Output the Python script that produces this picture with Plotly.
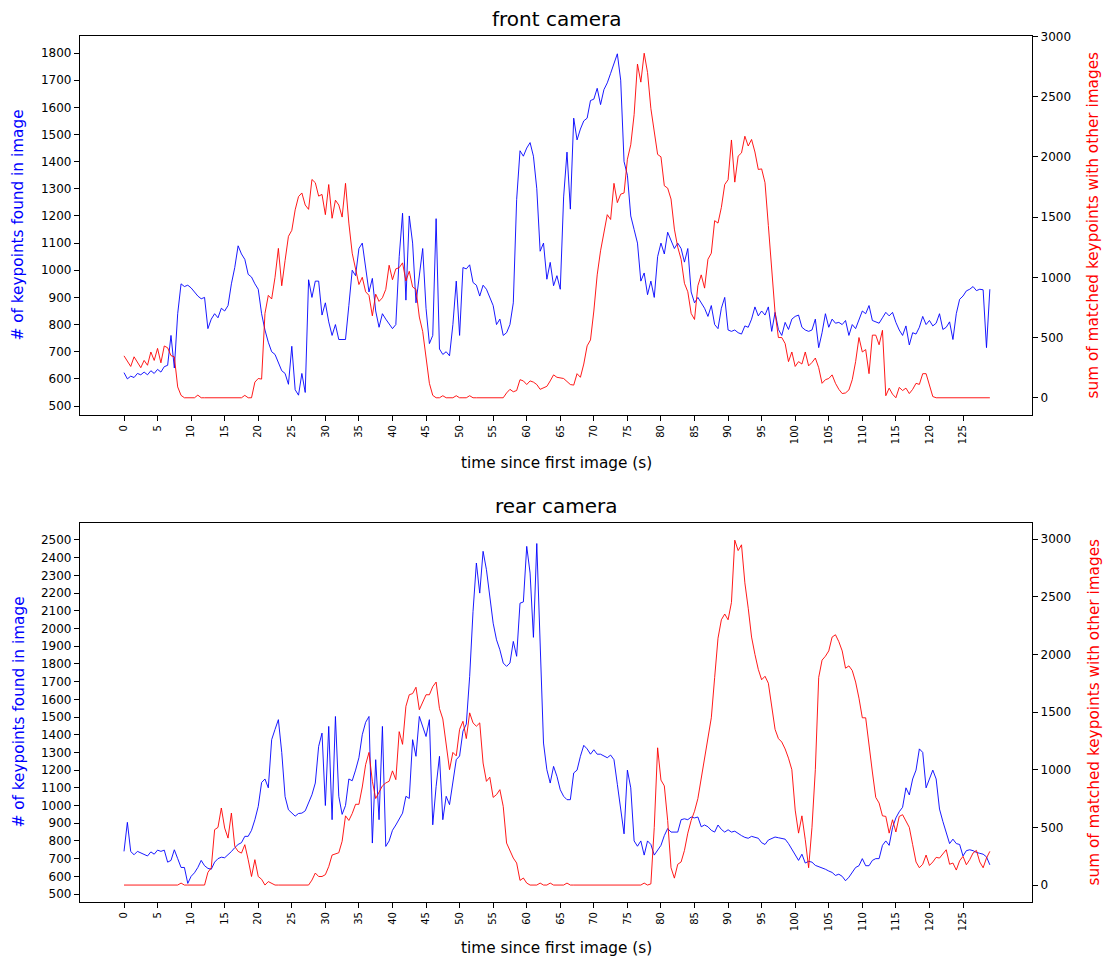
import plotly.graph_objects as go

front_keypoints = [
    623, 600, 610, 605, 620, 615, 625, 615, 630, 620,
    635, 625, 645, 650, 760, 640, 840, 950, 940, 945,
    935, 920, 905, 895, 900, 785, 820, 840, 825, 860,
    850, 870, 950, 1010, 1090, 1060, 1040, 985, 975, 950,
    930, 840, 780, 735, 700, 690, 660, 630, 620, 580,
    720, 560, 540, 620, 550, 965, 900, 960, 960, 835,
    880, 810, 760, 800, 745, 745, 745, 870, 1000, 980,
    1080, 1100, 1000, 920, 970, 850, 790, 840, 820, 800,
    785, 800, 1050, 1210, 890, 1200, 1100, 880, 990, 1080,
    860, 730, 760, 1190, 710, 690, 700, 685, 800, 960,
    760, 1010, 1005, 1020, 955, 945, 905, 945, 930, 900,
    870, 800, 820, 760, 770, 800, 880, 1260, 1440, 1420,
    1450, 1470, 1420, 1300, 1070, 1100, 967, 1029, 943, 980,
    930, 1270, 1435, 1225, 1560, 1480, 1520, 1550, 1560, 1625,
    1630, 1670, 1610, 1665, 1690, 1725, 1760, 1797, 1700, 1400,
    1350, 1200, 1150, 1100, 960, 990, 910, 960, 900, 1050,
    1100, 1060, 1140, 1110, 1080, 1100, 1080, 1030, 1080, 920,
    880, 900, 880, 860, 830, 870, 800, 785, 860, 900,
    780, 775, 780, 770, 765, 795, 790, 820, 865, 832,
    850, 835, 865, 775, 845, 782, 760, 808, 782, 820,
    830, 835, 790, 780, 775, 780, 820, 715, 770, 840,
    790, 820, 805, 808, 800, 815, 760, 800, 785, 820,
    850, 840, 870, 815, 810, 805, 825, 845, 832, 845,
    808, 780, 760, 795, 725, 770, 765, 790, 830, 800,
    815, 795, 805, 840, 782, 790, 810, 745, 840, 893,
    905, 924, 930, 940, 925, 930, 928, 715, 930,
]

front_matched = [
    348, 300, 260, 340, 290, 250, 310, 270, 380, 310,
    410, 290, 430, 415, 350, 340, 90, 20, 0, 0,
    0, 0, 22, 0, 0, 0, 0, 0, 0, 0,
    0, 0, 0, 0, 0, 0, 20, 0, 0, 130,
    160, 155, 700, 850, 820, 1000, 1240, 930, 1140, 1340,
    1390, 1560, 1670, 1700, 1600, 1564, 1812, 1785, 1674, 1688,
    1520, 1770, 1490, 1640, 1600, 1500, 1780, 1450, 1200, 1070,
    940, 1000, 880, 850, 680, 860, 800, 830, 900, 1100,
    980, 1070, 1080, 1120, 970, 1050, 920, 900, 670, 550,
    350, 120, 20, 0, 0, 17, 0, 0, 0, 17,
    0, 0, 0, 17, 0, 0, 0, 0, 0, 0,
    0, 0, 0, 0, 40, 70, 50, 60, 150, 140,
    110, 140, 130, 110, 70, 80, 95, 140, 190, 170,
    165, 160, 135, 110, 105, 200, 170, 280, 431, 480,
    720, 1020, 1220, 1370, 1520, 1480, 1780, 1620, 1690, 1700,
    1980, 2100, 2350, 2770, 2620, 2860, 2700, 2400, 2200, 2020,
    2000, 1760, 1740, 1650, 1400, 1250, 1150, 950, 880, 700,
    650, 930, 1020, 910, 1150, 1200, 1470, 1450, 1580, 1770,
    1810, 2140, 1790, 2006, 2033, 2171, 2090, 2144, 2040, 1895,
    1900, 1785, 1430, 1040, 707, 500, 500, 450, 300, 380,
    260, 300, 280, 380, 265, 293, 330, 250, 120, 150,
    160, 190, 120, 70, 35, 40, 65, 150, 300, 500,
    380, 400, 200, 520, 520, 440, 560, 17, 80, 30,
    0, 86, 60, 80, 35, 70, 120, 111, 200, 200,
    100, 10, 0, 0, 0, 0, 0, 0, 0, 0,
    0, 0, 0, 0, 0, 0, 0, 0, 0,
]

rear_keypoints = [
    741, 905, 740, 722, 741, 731, 722, 715, 738, 725,
    748, 741, 748, 680, 690, 750, 700, 650, 650, 560,
    600, 620, 650, 690, 660, 645, 640, 680, 700, 708,
    705, 722, 740, 762, 780, 790, 826, 826, 860, 920,
    995, 1130, 1150, 1100, 1372, 1430, 1485, 1300, 1050, 976,
    957, 940, 955, 957, 970, 1014, 1061, 1127, 1334, 1409,
    1000, 1447, 920, 1503, 1052, 950, 1000, 1150, 1140, 1200,
    1270, 1400, 1470, 1503, 788, 1259, 920, 1447, 769, 800,
    860, 890, 925, 957, 1052, 1040, 1372, 1278, 1503, 1440,
    1390, 1485, 891, 1108, 1278, 920, 1052, 1005, 1146, 1259,
    1280, 1420, 1460, 1729, 2096, 2370, 2200, 2436, 2332, 2181,
    2030, 1936, 1880, 1805, 1786, 1805, 1927, 1843, 2143, 2150,
    2464, 2313, 1950, 2480, 1900, 1353, 1202, 1127, 1221, 1165,
    1089, 1052, 1033, 1033, 1184, 1200, 1278, 1340, 1320, 1290,
    1315, 1290, 1290, 1280, 1270, 1285, 1259, 1120, 980, 840,
    1200, 1100, 800, 770, 800, 720, 800, 780, 720, 750,
    775, 830, 870, 850, 850, 850, 920, 925, 920, 935,
    930, 935, 880, 890, 880, 860, 850, 890, 865, 850,
    863, 850, 855, 840, 830, 820, 815, 826, 820, 815,
    790, 780, 805, 812, 822, 818, 816, 810, 785, 755,
    725, 690, 725, 675, 685, 680, 662, 656, 650, 640,
    630, 622, 605, 612, 600, 575, 595, 625, 650, 660,
    700, 660, 660, 690, 700, 700, 775, 800, 775, 875,
    930, 965, 990, 1100, 1060, 1150, 1200, 1320, 1300, 1100,
    1150, 1200, 1150, 980, 910, 850, 785, 810, 785, 780,
    715, 745, 750, 745, 735, 730, 725, 710, 665,
]

rear_matched = [
    0, 0, 0, 0, 0, 0, 0, 0, 0, 0,
    0, 0, 0, 0, 0, 0, 0, 17, 0, 0,
    0, 0, 0, 0, 0, 110, 150, 480, 500, 668,
    494, 407, 624, 335, 292, 277, 350, 220, 74, 220,
    74, 50, 0, 30, 17, 0, 0, 0, 0, 0,
    0, 0, 0, 0, 0, 0, 43, 104, 74, 74,
    90, 160, 260, 270, 280, 380, 600, 560, 620, 700,
    700, 850, 1044, 1150, 900, 750, 800, 860, 885, 900,
    990, 914, 1330, 1220, 1550, 1650, 1660, 1715, 1520, 1579,
    1650, 1650, 1720, 1760, 1530, 1440, 1210, 1000, 1150, 1120,
    1350, 1420, 1270, 1493, 1406, 1377, 1406, 1058, 899, 935,
    760, 784, 827, 682, 364, 292, 234, 191, 40, 61,
    17, 0, 0, 0, 17, 0, 0, 17, 0, 0,
    0, 0, 17, 0, 0, 0, 0, 0, 0, 0,
    0, 0, 0, 0, 0, 0, 0, 0, 0, 0,
    0, 0, 0, 0, 0, 17, 0, 10, 500, 1190,
    910, 860, 560, 150, 60, 180, 200, 300, 450, 560,
    640, 750, 920, 1080, 1250, 1450, 1800, 2140, 2300, 2350,
    2300, 2450, 2990, 2900, 2950, 2620, 2400, 2150, 2000, 1870,
    1780, 1810, 1750, 1560, 1350, 1270, 1240, 1180, 1100, 1000,
    650, 450, 600, 393, 150, 500, 1000, 1800, 1950, 1984,
    2030, 2150, 2170, 2110, 2030, 1880, 1900, 1860, 1760, 1620,
    1450, 1450, 1200, 980, 760, 711, 600, 595, 450, 566,
    460, 595, 610, 560, 500, 350, 200, 150, 180, 260,
    170, 200, 240, 234, 270, 306, 180, 191, 130, 210,
    249, 176, 220, 278, 300, 200, 150, 234, 292,
]

x_ticks = list(range(0, 130, 5))
left_ticks_front = list(range(500, 1900, 100))
left_ticks_rear = list(range(500, 2600, 100))
right_ticks = list(range(0, 3500, 500))

STEP = 0.5


def times(series):
    return [i * STEP for i in range(len(series))]


FONT = "DejaVu Sans"
W, H = 1106, 962

fig = go.Figure()
fig.add_trace(go.Scatter(x=times(front_keypoints), y=front_keypoints, mode="lines",
                         line=dict(color="blue", width=0.9), xaxis="x", yaxis="y"))
fig.add_trace(go.Scatter(x=times(front_matched), y=front_matched, mode="lines",
                         line=dict(color="red", width=0.9), xaxis="x", yaxis="y2"))
fig.add_trace(go.Scatter(x=times(rear_keypoints), y=rear_keypoints, mode="lines",
                         line=dict(color="blue", width=0.9), xaxis="x2", yaxis="y3"))
fig.add_trace(go.Scatter(x=times(rear_matched), y=rear_matched, mode="lines",
                         line=dict(color="red", width=0.9), xaxis="x2", yaxis="y4"))

xdom = [80 / W, 1032 / W]
top_dom = [1 - 415 / H, 1 - 36 / H]
bot_dom = [1 - 902 / H, 1 - 523 / H]

common = dict(showgrid=False, zeroline=False, ticks="outside", ticklen=5, tickwidth=1,
              tickcolor="black", showline=True, linecolor="black", linewidth=1.2,
              tickfont=dict(family=FONT, size=12, color="black"), automargin=False)

xcommon = dict(common, tickvals=x_ticks, tickangle=-90, range=[-6.556, 135.28],
               tickfont=dict(family=FONT, size=10, color="black"), mirror=True)

fig.update_layout(
    width=W, height=H,
    margin=dict(l=0, r=0, t=0, b=0),
    paper_bgcolor="white", plot_bgcolor="white",
    showlegend=False,
    font=dict(family=FONT, color="black"),
    xaxis=dict(xcommon, domain=xdom, anchor="y"),
    yaxis=dict(common, domain=top_dom, range=[467, 1862.6], tickvals=left_ticks_front, anchor="x"),
    yaxis2=dict(common, overlaying="y", side="right", range=[-143, 3003], tickvals=right_ticks, anchor="x"),
    xaxis2=dict(xcommon, domain=xdom, anchor="y3"),
    yaxis3=dict(common, domain=bot_dom, range=[455, 2596], tickvals=left_ticks_rear, anchor="x2"),
    yaxis4=dict(common, overlaying="y3", side="right", range=[-147, 3139], tickvals=right_ticks, anchor="x2"),
)

xc = (80 + 1032) / 2 / W
ann = []
for title, ty, xt_y, yc in [("front camera", 19, 463, (36 + 415) / 2),
                            ("rear camera", 506, 948, (523 + 902) / 2)]:
    ann.append(dict(text=title, x=xc, y=1 - ty / H, xref="paper", yref="paper",
                    showarrow=False, font=dict(family=FONT, size=20, color="black"),
                    xanchor="center", yanchor="middle"))
    ann.append(dict(text="time since first image (s)", x=xc, y=1 - xt_y / H, xref="paper",
                    yref="paper", showarrow=False, font=dict(family=FONT, size=15.3, color="black"),
                    xanchor="center", yanchor="middle"))
    ann.append(dict(text="# of keypoints found in image", x=18 / W, y=1 - yc / H, xref="paper",
                    yref="paper", showarrow=False, textangle=-90,
                    font=dict(family=FONT, size=15.3, color="blue"),
                    xanchor="center", yanchor="middle"))
    ann.append(dict(text="sum of matched keypoints with other images", x=1093 / W, y=1 - yc / H,
                    xref="paper", yref="paper", showarrow=False, textangle=-90,
                    font=dict(family=FONT, size=15.3, color="red"),
                    xanchor="center", yanchor="middle"))
fig.update_layout(annotations=ann)

fig.write_html("out.html")
